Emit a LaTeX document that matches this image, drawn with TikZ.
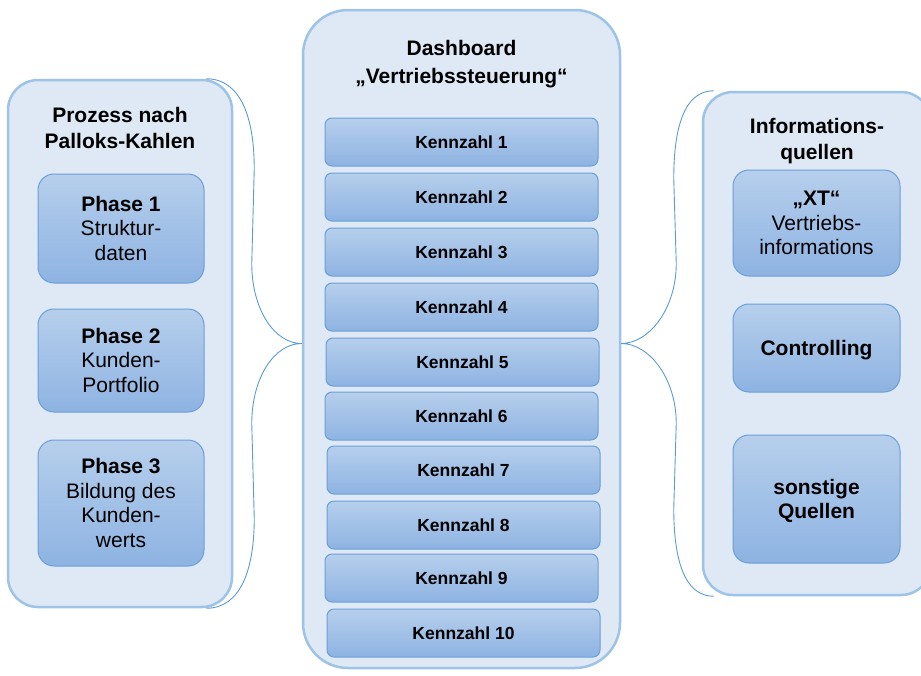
\documentclass[tikz,border=0pt]{standalone}
\usepackage{fontspec}
\setmainfont{Liberation Sans}
\usetikzlibrary{calc}
\definecolor{panelfill}{HTML}{DEE9F5}
\definecolor{panelline}{HTML}{9DC3E6}
\definecolor{cardtop}{HTML}{B6CFEC}
\definecolor{cardbottom}{HTML}{8EB3E2}
\definecolor{cardline}{HTML}{6A9FD8}
\definecolor{bracecol}{HTML}{5B9BD5}
% centred lines, set a little below the geometric centre of the card
\newcommand\cardlines[1]{\raisebox{-2.5pt}[\height][\depth]{\begin{tabular}{@{}c@{}}#1\end{tabular}}}

\begin{document}
\begin{tikzpicture}[x=1pt,y=-1pt,
  panel/.style={draw=panelline, fill=panelfill, line width=2.5pt, rounded corners=#1, inner sep=0pt},
  card/.style={draw=cardline, line width=1pt, top color=cardtop, bottom color=cardbottom,
    rounded corners=#1, inner sep=0pt, align=center, text=black,
    font=\fontsize{21}{24.5}\selectfont},
  kpi/.style={card=7pt, minimum width=273pt, minimum height=48pt,
    font=\fontsize{17.5}{20}\selectfont\bfseries},
  heading/.style={align=center, inner sep=0pt, font=\fontsize{21}{26}\selectfont\bfseries},
  brace/.style={draw=bracecol, line width=0.9pt}
]
\clip (0,0) rectangle (921,675);

% panels
\node[panel=30pt, minimum width=224pt, minimum height=527pt] (proc) at (120,343.5) {};
\node[panel=45pt, minimum width=317pt, minimum height=658pt] (dash) at (461.5,339) {};
\node[panel=30pt, minimum width=228pt, minimum height=503pt] (info) at (817,343.5) {};

% panel headings
\node[heading] (proctitle) at (120,128) {Prozess nach\\Palloks-Kahlen};
\node[heading, font=\fontsize{21}{28}\selectfont\bfseries] (dashtitle) at (461.5,64.5) {Dashboard\\„Vertriebssteuerung“};
\node[heading] (infotitle) at (817,141) {Informations-\\quellen};

% process phases
\node[card=16pt, minimum width=166pt, minimum height=109pt] (ph1) at (121,228.5)
  {\cardlines{\textbf{Phase 1}\\Struktur-\\daten}};
\node[card=16pt, minimum width=166pt, minimum height=103pt] (ph2) at (121,360.5)
  {\cardlines{\textbf{Phase 2}\\Kunden-\\Portfolio}};
\node[card=16pt, minimum width=166pt, minimum height=126pt] (ph3) at (121,503)
  {\cardlines{\textbf{Phase 3}\\Bildung des\\Kunden-\\werts}};

% key figures
\node[kpi] (k1) at (461.5,142) {\raisebox{-1pt}{Kennzahl 1}};
\node[kpi] (k2) at (461.5,197) {Kennzahl 2};
\node[kpi] (k3) at (461.5,252) {Kennzahl 3};
\node[kpi] (k4) at (461.5,307) {Kennzahl 4};
\node[kpi] (k5) at (462.5,362) {Kennzahl 5};
\node[kpi] (k6) at (461.5,416) {Kennzahl 6};
\node[kpi] (k7) at (463.5,470) {Kennzahl 7};
\node[kpi] (k8) at (463.5,525) {Kennzahl 8};
\node[kpi] (k9) at (461.5,578) {Kennzahl 9};
\node[kpi] (k10) at (463.5,633) {Kennzahl 10};

% information sources
\node[card=16pt, minimum width=167pt, minimum height=106pt] (xt) at (816.5,223)
  {\cardlines{\textbf{„XT“}\\Vertriebs-\\informations}};
\node[card=16pt, minimum width=167pt, minimum height=88pt, font=\fontsize{21}{24.5}\selectfont\bfseries]
  (ctrl) at (816.5,348) {\cardlines{Controlling}};
\node[card=16pt, minimum width=167pt, minimum height=128pt, font=\fontsize{21}{24.5}\selectfont\bfseries]
  (misc) at (816.5,499) {\cardlines{sonstige\\Quellen}};

% braces
\coordinate (lbT) at ($(proc.north east)+(-27,0)$);
\coordinate (lbB) at ($(proc.south east)+(-27,0)$);
\coordinate (lbM) at (dash.west |- proc.east);
\draw[brace] (lbT) .. controls ($(lbT)+(35,0)$) and ($(lbT)+(48,40)$) .. ($(lbT)+(48,90)$)
  -- ($(lbM)+(-50,-80)$) .. controls ($(lbM)+(-50,-35)$) and ($(lbM)+(-28,0)$) .. (lbM)
  .. controls ($(lbM)+(-28,0)$) and ($(lbM)+(-50,35)$) .. ($(lbM)+(-50,80)$)
  -- ($(lbB)+(48,-90)$) .. controls ($(lbB)+(48,-40)$) and ($(lbB)+(35,0)$) .. (lbB);

\coordinate (rbT) at ($(info.north west)+(12,0)$);
\coordinate (rbB) at ($(info.south west)+(12,0)$);
\coordinate (rbM) at (dash.east |- info.west);
\draw[brace] (rbT) .. controls ($(rbT)+(-30,0)$) and ($(rbT)+(-40,38)$) .. ($(rbT)+(-40,88)$)
  -- ($(rbM)+(55,-80)$) .. controls ($(rbM)+(55,-35)$) and ($(rbM)+(28,0)$) .. (rbM)
  .. controls ($(rbM)+(28,0)$) and ($(rbM)+(55,35)$) .. ($(rbM)+(55,80)$)
  -- ($(rbB)+(-40,-88)$) .. controls ($(rbB)+(-40,-38)$) and ($(rbB)+(-30,0)$) .. (rbB);
\end{tikzpicture}
\end{document}
